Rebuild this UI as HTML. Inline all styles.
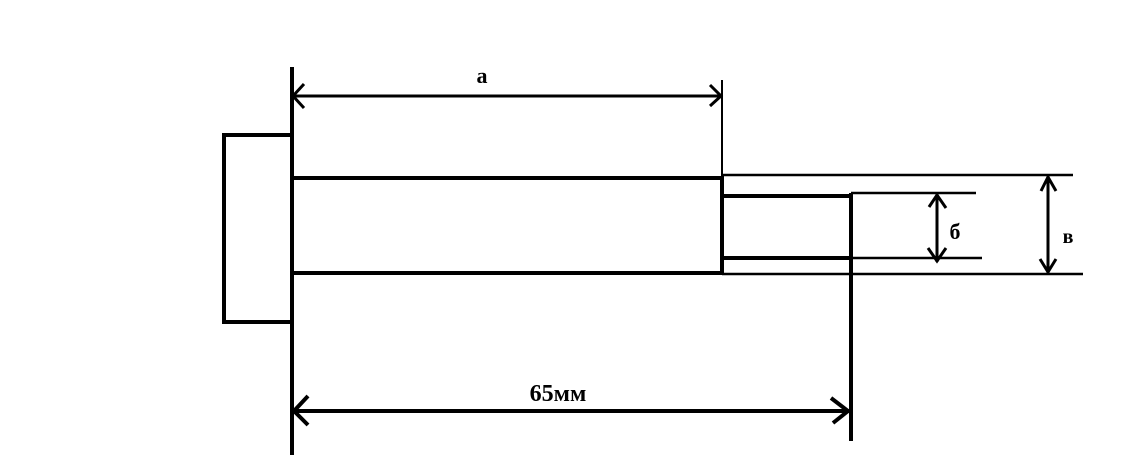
<!DOCTYPE html>
<html><head><meta charset="utf-8"><style>
html,body{margin:0;padding:0;background:#fff;}
svg{display:block}
text{font-family:"Liberation Serif","DejaVu Serif",serif;font-weight:bold;fill:#000}
</style></head><body>
<svg width="1129" height="467" viewBox="0 0 1129 467" xmlns="http://www.w3.org/2000/svg">
<g stroke="#000" fill="none" stroke-linecap="butt">
<!-- head -->
<rect x="224" y="135" width="68" height="187" stroke-width="4"/>
<!-- main vertical -->
<line x1="292" y1="67" x2="292" y2="455" stroke-width="4"/>
<!-- body -->
<line x1="292" y1="178" x2="722" y2="178" stroke-width="4"/>
<line x1="292" y1="273" x2="722" y2="273" stroke-width="4"/>
<line x1="722" y1="176" x2="722" y2="274" stroke-width="4"/>
<line x1="722" y1="80" x2="722" y2="178" stroke-width="2"/>
<!-- thread outer lines -->
<line x1="722" y1="175" x2="1073" y2="175" stroke-width="2.5"/>
<line x1="722" y1="274" x2="1083" y2="274" stroke-width="2.5"/>
<!-- small rect -->
<line x1="722" y1="196" x2="851" y2="196" stroke-width="4"/>
<line x1="722" y1="258" x2="851" y2="258" stroke-width="4"/>
<line x1="851" y1="193" x2="976" y2="193" stroke-width="2.5"/>
<line x1="851" y1="258" x2="982" y2="258" stroke-width="2.5"/>
<line x1="851" y1="193" x2="851" y2="441" stroke-width="4"/>
<!-- dim a -->
<line x1="292" y1="96" x2="722" y2="96" stroke-width="3"/>
<polyline points="304,84 293,96 304,108" stroke-width="3"/>
<polyline points="710,85 721,96 710,106" stroke-width="3"/>
<!-- dim 65 -->
<line x1="293" y1="411" x2="850" y2="411" stroke-width="4"/>
<polyline points="308,396 294,411 308,425" stroke-width="4"/>
<polyline points="831,398 848,411 833,423" stroke-width="4"/>
<!-- dim б -->
<line x1="937" y1="194" x2="937" y2="262" stroke-width="3"/>
<polyline points="929,207 937,195 946,208" stroke-width="3"/>
<polyline points="928,248 937,261 946,248" stroke-width="3"/>
<!-- dim в -->
<line x1="1048" y1="176" x2="1048" y2="273" stroke-width="3"/>
<polyline points="1041,191 1048,177 1056,191" stroke-width="3"/>
<polyline points="1040,259 1048,272 1056,259" stroke-width="3"/>
</g>
<text x="482" y="83" font-size="22" text-anchor="middle">а</text>
<text x="558" y="401" font-size="24" text-anchor="middle">65мм</text>
<text x="955" y="239" font-size="22" text-anchor="middle">б</text>
<text x="1068" y="243" font-size="20" text-anchor="middle">в</text>
</svg>
</body></html>
